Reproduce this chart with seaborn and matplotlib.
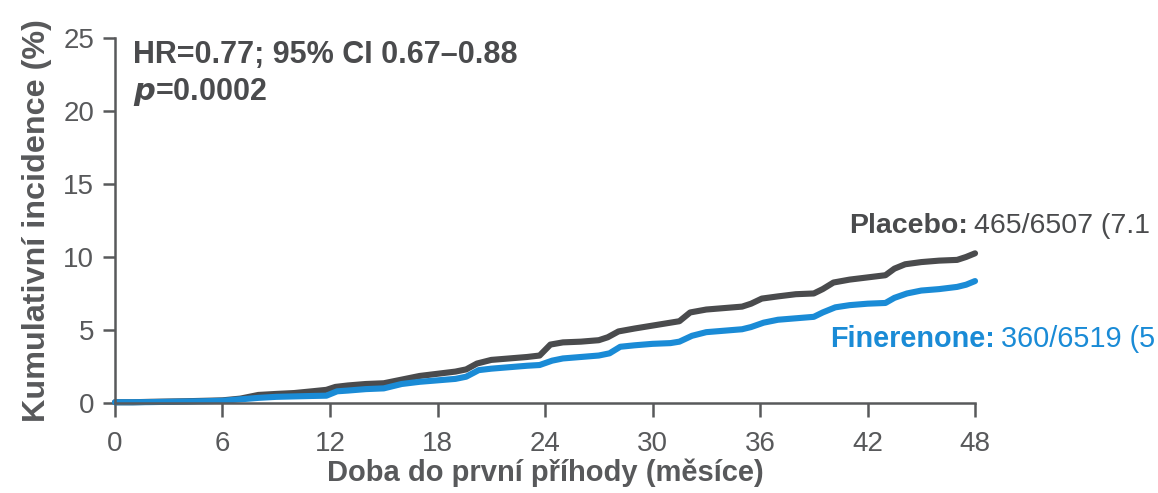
import numpy as np
import pandas as pd
import matplotlib
matplotlib.use("Agg")
import matplotlib.pyplot as plt
import seaborn as sns

# Cumulative incidence (%) by month since randomisation
placebo_months = [0, 1, 2, 3, 4, 5, 6, 7, 8, 9, 10, 11, 11.8, 12.3, 13, 14, 15, 16, 17, 18, 19, 19.6,
                  20.2, 21, 22, 23, 23.7, 24.3, 25, 26, 27, 27.5, 28.1, 29, 30, 31, 31.5, 32.1, 33, 34,
                  35, 35.5, 36.1, 37, 38, 39, 39.5, 40.1, 41, 42, 43, 43.5, 44.1, 45, 46, 47, 47.5, 48]
placebo_pct = [0.05, 0.05, 0.08, 0.1, 0.12, 0.15, 0.18, 0.3, 0.55, 0.62, 0.68, 0.8, 0.9, 1.1, 1.2,
               1.3, 1.35, 1.6, 1.85, 2.0, 2.15, 2.3, 2.7, 2.95, 3.05, 3.15, 3.25, 4.0, 4.15, 4.2,
               4.3, 4.5, 4.9, 5.1, 5.3, 5.5, 5.6, 6.2, 6.4, 6.5, 6.6, 6.8, 7.15, 7.3, 7.45, 7.5,
               7.8, 8.25, 8.45, 8.6, 8.75, 9.2, 9.5, 9.65, 9.75, 9.8, 10.0, 10.25]

finerenone_months = [0, 1, 2, 3, 4, 5, 6, 7, 8, 9, 10, 11, 11.8, 12.4, 13, 14, 15, 16, 17, 18, 19,
                     19.6, 20.3, 21, 22, 23, 23.7, 24.4, 25, 26, 27, 27.6, 28.2, 29, 30, 31, 31.5, 32.2,
                     33, 34, 35, 35.5, 36.2, 37, 38, 39, 39.5, 40.2, 41, 42, 43, 43.5, 44.2, 45, 46, 47,
                     47.5, 48]
finerenone_pct = [0.05, 0.05, 0.06, 0.08, 0.1, 0.12, 0.15, 0.25, 0.35, 0.42, 0.45, 0.48, 0.5, 0.8,
                  0.85, 0.95, 1.0, 1.3, 1.45, 1.55, 1.65, 1.8, 2.25, 2.35, 2.45, 2.55, 2.6, 2.9,
                  3.05, 3.15, 3.25, 3.4, 3.85, 3.95, 4.05, 4.1, 4.2, 4.6, 4.85, 4.95, 5.05, 5.2,
                  5.5, 5.7, 5.8, 5.9, 6.2, 6.55, 6.7, 6.8, 6.85, 7.2, 7.5, 7.7, 7.8, 7.95, 8.1, 8.35]

x_ticks = [0, 6, 12, 18, 24, 30, 36, 42, 48]
y_ticks = [0, 5, 10, 15, 20, 25]

GRAY = "#4a4b4d"
BLUE = "#1a8bd6"
TICK_GRAY = "#58595b"

sns.set_theme(style="ticks")
plt.rcParams["font.family"] = ["Liberation Sans", "DejaVu Sans"]

df = pd.concat([
    pd.DataFrame({"month": placebo_months, "pct": placebo_pct, "arm": "Placebo"}),
    pd.DataFrame({"month": finerenone_months, "pct": finerenone_pct, "arm": "Finerenone"}),
], ignore_index=True)

fig = plt.figure(figsize=(11.58, 4.93), dpi=100)
ax = fig.add_axes([0.0993, 0.1826, 0.7427, 0.7404])

sns.lineplot(data=df, x="month", y="pct", hue="arm",
             palette={"Placebo": GRAY, "Finerenone": BLUE},
             hue_order=["Placebo", "Finerenone"],
             linewidth=4.4, legend=False, ax=ax,
             estimator=None, sort=False)
for ln in ax.lines:
    ln.set_clip_on(False)
    ln.set_solid_capstyle("round")
    ln.set_solid_joinstyle("round")

ax.set_xlim(0, 48)
ax.set_ylim(0, 25)
ax.set_xticks(x_ticks)
ax.set_yticks(y_ticks)
sns.despine(ax=ax)
for side in ("left", "bottom"):
    ax.spines[side].set_color(TICK_GRAY)
    ax.spines[side].set_linewidth(1.8)
ax.tick_params(axis="both", colors=TICK_GRAY, labelsize=20, width=1.8, direction="out")
ax.tick_params(axis="y", length=9, pad=6)
ax.tick_params(axis="x", length=10, pad=10)

ax.set_xlabel("Doba do první příhody (měsíce)", fontsize=21, fontweight="bold",
              color=TICK_GRAY, labelpad=1)
ax.set_ylabel("Kumulativní incidence (%)", fontsize=23.3, fontweight="bold",
              color=TICK_GRAY, labelpad=8)

ax.text(0.021, 0.9315, "HR=0.77; 95% CI 0.67–0.88", transform=ax.transAxes,
        fontsize=22, fontweight="bold", color=GRAY, va="baseline", ha="left")
ax.text(0.021, 0.830, r"$\bfit{p}$=0.0002", transform=ax.transAxes,
        fontsize=22, fontweight="bold", color=GRAY, va="baseline", ha="left")


def two_part_label(x, y, bold_part, rest, color, size):
    head = ax.text(x, y, bold_part, transform=ax.transData, fontsize=size,
                   fontweight="bold", color=color, va="baseline", ha="left",
                   clip_on=False)
    ax.annotate(rest, xy=(1, 0), xycoords=head, xytext=(4.5, 0),
                textcoords="offset points", fontsize=size, color=color,
                va="bottom", ha="left", annotation_clip=False)


# arm summaries run to the right-hand edge of the figure
two_part_label(40.95, 11.64, "Placebo:", "465/6507 (7.1", GRAY, 20.5)
two_part_label(39.9, 3.84, "Finerenone:", "360/6519 (5", BLUE, 20.8)

fig.savefig("out.png", dpi=100)
